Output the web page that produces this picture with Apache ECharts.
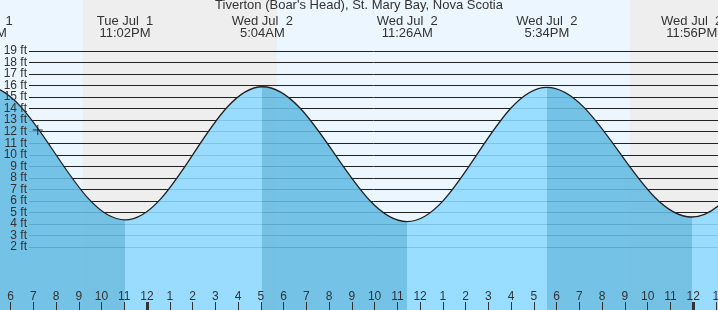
<!DOCTYPE html>
<html><head><meta charset="utf-8">
<script src="https://cdn.jsdelivr.net/npm/echarts@6/dist/echarts.min.js"></script>
<style>html,body{margin:0;padding:0;background:#fff}#c{width:718px;height:310px}</style>
</head><body><div id="c"></div>
<script>
const titleText = "Tiverton (Boar's Head), St. Mary Bay, Nova Scotia";
// tide extremes, hours counted from Tue Jul 1 00:00 (first and last are off-screen estimates)
const extremeHours = [10.6, 16.85, 23.033, 29.067, 35.433, 41.567, 47.933, 54.08, 60.4];
const extremeFeet = [4.1, 16.0, 4.35, 15.9, 4.2, 15.85, 4.6, 15.7, 4.4];
const extremeLabels = ['Tue Jul  1\n10:36AM', 'Tue Jul  1\n4:51PM', 'Tue Jul  1\n11:02PM', 'Wed Jul  2\n5:04AM', 'Wed Jul  2\n11:26AM', 'Wed Jul  2\n5:34PM', 'Wed Jul  2\n11:56PM', 'Thu Jul  3\n6:05AM', 'Thu Jul  3\n12:24PM'];
// night (sunset -> sunrise)
const nightStart = [21.18, 45.22];
const nightEnd = [29.70, 52];
// height labels shown: 2 ft .. 19 ft
const feetMin = 2, feetMax = 19;
const tickHours = [18, 19, 20, 21, 22, 23, 24, 25, 26, 27, 28, 29, 30, 31, 32, 33, 34, 35, 36, 37, 38, 39, 40, 41, 42, 43, 44, 45, 46, 47, 48, 49];
const tickLabels = ['6', '7', '8', '9', '10', '11', '12', '1', '2', '3', '4', '5', '6', '7', '8', '9', '10', '11', '12', '1', '2', '3', '4', '5', '6', '7', '8', '9', '10', '11', '12', '1'];
const midnightHours = [24, 48];
const nowPoint = [19.2, 12.15];

const X_MIN = 15.7809, X_MAX = 50.8474;
const Y_MIN = -3.4643, Y_MAX = 23.4235;
const PX_PER_FT = 11.5294;
const FALL = '#64BBE3', RISE = '#8DD9FF';
const FONT = 'Liberation Sans, Arial, sans-serif';

const pieces = [];
for (let i = 0; i < extremeHours.length; i++) {
  const p = { color: extremeFeet[i] < 10 ? FALL : RISE };
  if (i > 0) p.gte = extremeHours[i - 1];
  p.lt = extremeHours[i];
  pieces.push(p);
}
pieces.push({ gte: extremeHours[extremeHours.length - 1], color: extremeFeet[extremeFeet.length - 1] < 10 ? RISE : FALL });

const gridBase = { containLabel: false, outerBoundsMode: 'none' };
const noLine = { show: false, onZero: false };
const chart = echarts.init(document.getElementById('c'), null, { renderer: 'canvas' });
chart.setOption({
  animation: false,
  backgroundColor: '#EBF6FF',
  title: { text: titleText, left: 'center', top: -1, padding: 0, z: 6,
    textStyle: { fontFamily: FONT, fontSize: 13, fontWeight: 'normal', color: '#333' } },
  grid: [
    Object.assign({ left: -40, right: -40, top: 0, bottom: 0 }, gridBase),
    Object.assign({ left: 29, right: 0, top: 51, bottom: 63 }, gridBase),
    Object.assign({ left: -40, right: -40, top: 0, bottom: 0 }, gridBase),
    Object.assign({ left: 29, right: 0, top: 51 - PX_PER_FT, bottom: 63 - PX_PER_FT }, gridBase)
  ],
  xAxis: [
    { gridIndex: 0, type: 'value', position: 'bottom', min: X_MIN, max: X_MAX, z: 3,
      axisLine: noLine, splitLine: { show: false },
      axisTick: { inside: true, length: 8, customValues: tickHours, lineStyle: { color: '#333', width: 1 } },
      axisLabel: { inside: true, margin: 7, customValues: tickHours, fontFamily: FONT, fontSize: 12, color: '#333',
        showMinLabel: true, showMaxLabel: true, hideOverlap: false,
        formatter: v => tickLabels[tickHours.indexOf(Math.round(v))] } },
    { gridIndex: 0, type: 'value', position: 'top', min: X_MIN, max: X_MAX, z: 3,
      axisLine: noLine, splitLine: { show: false }, axisTick: { show: false },
      axisLabel: { inside: true, margin: 15, fontFamily: FONT, fontSize: 13, lineHeight: 12.5, color: '#333',
        showMinLabel: true, showMaxLabel: true, hideOverlap: false,
        customValues: extremeHours.filter(h => h > X_MIN - 2 && h < X_MAX),
        formatter: v => extremeLabels[extremeHours.indexOf(v)] } },
    { gridIndex: 1, type: 'value', show: false, min: 0, max: 1, axisLine: noLine },
    { gridIndex: 2, type: 'value', position: 'bottom', min: X_MIN, max: X_MAX, z: 3,
      axisLine: noLine, splitLine: { show: false }, axisLabel: { show: false },
      axisTick: { inside: true, length: 8, customValues: midnightHours, lineStyle: { color: '#333', width: 3 } } },
    { gridIndex: 3, type: 'value', show: false, min: 0, max: 1, axisLine: noLine }
  ],
  yAxis: [
    { gridIndex: 0, type: 'value', min: Y_MIN, max: Y_MAX, show: false, splitLine: { show: false }, axisLine: noLine },
    { gridIndex: 1, type: 'value', min: feetMin, max: feetMax, interval: 1, z: 1,
      axisLine: noLine, axisTick: { show: false }, axisLabel: { show: false },
      splitLine: { show: true, lineStyle: { color: '#222', width: 1 } } },
    { gridIndex: 2, type: 'value', min: Y_MIN, max: Y_MAX, show: false, splitLine: { show: false }, axisLine: noLine },
    { gridIndex: 3, type: 'value', min: feetMin - 1, max: feetMax + 1, interval: 1, z: 5,
      axisLine: noLine, axisTick: { show: false }, splitLine: { show: false },
      axisLabel: { margin: 2, fontFamily: FONT, fontSize: 12, color: '#333', formatter: '{value} ft',
        showMinLabel: false, showMaxLabel: false, hideOverlap: false } }
  ],
  visualMap: { show: false, type: 'piecewise', seriesIndex: 0, dimension: 0, pieces: pieces },
  series: [
    { type: 'line', xAxisIndex: 0, yAxisIndex: 0, z: 2,
      data: extremeHours.map((h, i) => [h, extremeFeet[i]]),
      smooth: 0.363, smoothMonotone: 'x', symbol: 'none',
      lineStyle: { color: '#222', width: 1.3 },
      areaStyle: { opacity: 0.88, origin: 'start' } },
    { type: 'line', xAxisIndex: 0, yAxisIndex: 0, z: 0, data: [],
      markArea: { silent: true, z: 0, itemStyle: { color: '#EEEEEE' },
        data: nightStart.map((s, i) => [{ xAxis: s }, { xAxis: nightEnd[i] }]) } },
    { type: 'scatter', xAxisIndex: 0, yAxisIndex: 0, z: 4, data: [nowPoint],
      symbol: 'path://M0,5L10,5M5,0L5,10', symbolSize: 10,
      itemStyle: { color: 'none', borderColor: '#222', borderWidth: 1, opacity: 1 } }
  ]
});
</script></body></html>
